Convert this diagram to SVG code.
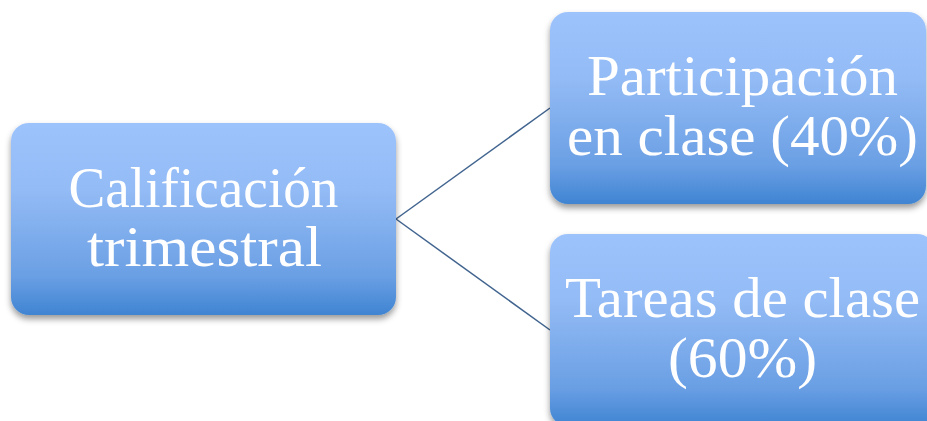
<svg xmlns="http://www.w3.org/2000/svg" width="927" height="421" viewBox="0 0 927 421">
<defs>
<linearGradient id="g" x1="0" y1="0" x2="0" y2="1">
<stop offset="0" stop-color="#9dc3fc"/>
<stop offset="0.35" stop-color="#93bbf5"/>
<stop offset="0.8" stop-color="#6a9fe4"/>
<stop offset="1" stop-color="#3f84d2"/>
</linearGradient>
<filter id="sh" x="-10%" y="-10%" width="120%" height="130%">
<feDropShadow dx="0" dy="4" stdDeviation="3" flood-color="#000" flood-opacity="0.4"/>
</filter>
</defs>
<style>
.box{fill:url(#g);filter:url(#sh);}
.t{font-family:"Liberation Serif","DejaVu Serif",serif;fill:#fff;text-anchor:middle;font-size:58px;}
.c{stroke:#41648f;stroke-width:1.5;fill:none;}
</style>
<g id="connectors">
<line class="c" x1="396" y1="219" x2="550" y2="108"/>
<line class="c" x1="396" y1="219" x2="550" y2="330"/>
</g>
<g id="n1">
<rect class="box" x="11" y="123" width="385" height="192" rx="18"/>
<text class="t" x="203.5" y="207" textLength="270" lengthAdjust="spacingAndGlyphs">Calificación</text>
<text class="t" x="204.5" y="266" textLength="235" lengthAdjust="spacingAndGlyphs">trimestral</text>
</g>
<g id="n2">
<rect class="box" x="550" y="12" width="376" height="192" rx="18"/>
<text class="t" x="742.5" y="95" textLength="311" lengthAdjust="spacingAndGlyphs">Participación</text>
<text class="t" x="742.5" y="155" textLength="351" lengthAdjust="spacingAndGlyphs">en clase (40%)</text>
</g>
<g id="n3">
<rect class="box" x="550" y="234" width="385" height="192" rx="18"/>
<text class="t" x="742.5" y="317" textLength="355" lengthAdjust="spacingAndGlyphs">Tareas de clase</text>
<text class="t" x="742.5" y="377" textLength="149" lengthAdjust="spacingAndGlyphs">(60%)</text>
</g>
</svg>
